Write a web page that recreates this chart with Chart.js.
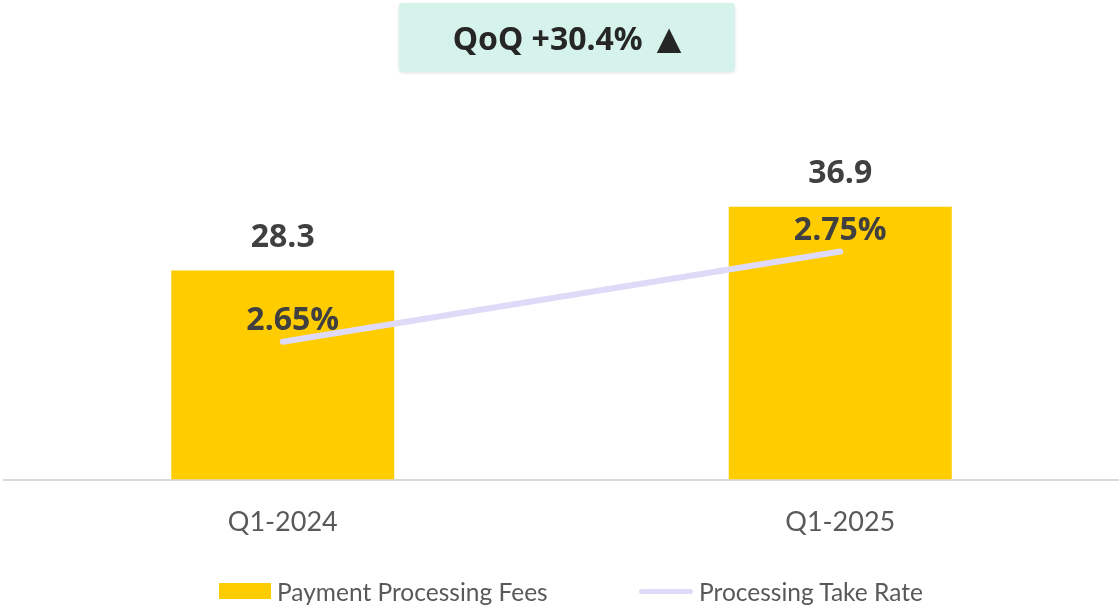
<!DOCTYPE html>
<html lang="en">
<head>
    <meta charset="UTF-8" />
    <title>Payment Processing Fees vs Processing Take Rate</title>
    <script src="https://cdn.jsdelivr.net/npm/chart.js"></script>
    <style>
        body {
            margin: 0;
            background: #fff;
            font-family: Lato, sans-serif;
        }

        #wrap {
            position: relative;
            width: 1119px;
            height: 607px;
        }

        #qoq {
            position: absolute;
            left: 399px;
            top: 3px;
            width: 336px;
            height: 69px;
            background: #d5f3ea;
            border-radius: 4px;
            box-shadow: 0 1px 3px rgba(0, 0, 0, 0.12);
            display: flex;
            align-items: center;
            justify-content: center;
            font-family: "Noto Sans", sans-serif;
            font-weight: bold;
            font-size: 32px;
            color: #262626;
        }

        #qoq .arrow {
            font-family: "DejaVu Sans", sans-serif;
            font-weight: normal;
            margin-left: 14px;
        }

        .legend-item {
            position: absolute;
            top: 578px;
            height: 26px;
            display: flex;
            align-items: center;
            font-size: 24.5px;
            color: #595959;
        }

        .swatch-bar {
            width: 52px;
            height: 16px;
            background: #ffcc00;
            margin-right: 6px;
        }

        .swatch-line {
            width: 54px;
            height: 5px;
            border-radius: 3px;
            background: #dedaf7;
            margin-right: 6px;
        }
    </style>
</head>
<body>
    <div id="wrap">
        <canvas id="chart" width="1119" height="607"></canvas>
        <div id="qoq">QoQ +30.4%<span class="arrow">&#9650;</span></div>
        <div class="legend-item" style="left: 219px;"><span class="swatch-bar"></span>Payment Processing Fees</div>
        <div class="legend-item" style="left: 639px;"><span class="swatch-line"></span>Processing Take Rate</div>
    </div>

    <script>
        const quarters = ['Q1-2024', 'Q1-2025'];
        const fees = [28.3, 36.9];          // Payment Processing Fees
        const takeRate = [2.65, 2.75];      // Processing Take Rate (%)

        // small nudge for the first take rate label, like in the source deck
        const rateLabelShift = [10, 0];

        const valueLabels = {
            id: 'valueLabels',
            afterDatasetsDraw(chart) {
                const ctx = chart.ctx;
                ctx.save();
                ctx.fillStyle = '#404040';
                ctx.textAlign = 'center';
                ctx.textBaseline = 'middle';
                ctx.font = 'bold 32px "Open Sans"';
                chart.getDatasetMeta(1).data.forEach((bar, i) => {
                    ctx.fillText(fees[i].toFixed(1), bar.x, bar.y - 33);
                });
                chart.getDatasetMeta(0).data.forEach((pt, i) => {
                    ctx.fillText(takeRate[i].toFixed(2) + '%', pt.x + rateLabelShift[i], pt.y - 21);
                });
                ctx.restore();
            }
        };

        new Chart(document.getElementById('chart'), {
            data: {
                labels: quarters,
                datasets: [
                    {
                        type: 'line',
                        label: 'Processing Take Rate',
                        data: takeRate,
                        yAxisID: 'y2',
                        borderColor: '#dedaf7',
                        borderWidth: 6,
                        borderCapStyle: 'round',
                        pointRadius: 0,
                        order: 0
                    },
                    {
                        type: 'bar',
                        label: 'Payment Processing Fees',
                        data: fees,
                        yAxisID: 'y',
                        backgroundColor: '#ffcc00',
                        categoryPercentage: 1,
                        barPercentage: 0.4,
                        order: 1
                    }
                ]
            },
            options: {
                responsive: false,
                animation: false,
                layout: {
                    padding: { top: 110, left: 4, right: 0, bottom: 51 }
                },
                plugins: {
                    legend: { display: false },
                    tooltip: { enabled: false }
                },
                scales: {
                    x: {
                        grid: { display: false },
                        border: { display: true, color: '#d9d9d9', width: 2 },
                        ticks: {
                            padding: 18,
                            color: '#595959',
                            font: { family: 'Lato', size: 27 }
                        }
                    },
                    y: {
                        display: false,
                        min: 0,
                        max: 50
                    },
                    y2: {
                        display: false,
                        min: 2.497,
                        max: 2.907
                    }
                }
            },
            plugins: [valueLabels]
        });
    </script>
</body>
</html>
